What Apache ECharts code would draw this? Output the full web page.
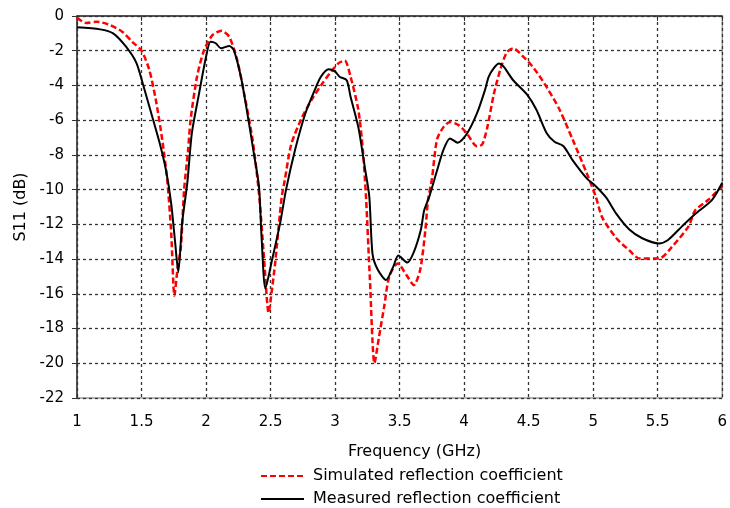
<!DOCTYPE html>
<html>
<head>
<meta charset="utf-8">
<script src="https://cdn.jsdelivr.net/npm/echarts@6/dist/echarts.min.js"></script>
<style>html,body{margin:0;padding:0;background:#fff}#c{width:730px;height:508px}</style>
</head>
<body>
<div id="c"></div>
<script>
var simFreq = [1.00,1.07,1.15,1.25,1.35,1.43,1.50,1.56,1.61,1.66,1.70,1.73,1.755,1.78,1.805,1.83,1.86,1.88,1.93,1.985,2.05,2.12,2.18,2.24,2.30,2.36,2.41,2.45,2.485,2.51,2.536,2.585,2.61,2.66,2.74,2.82,2.90,2.97,3.03,3.075,3.12,3.18,3.215,3.24,3.27,3.305,3.34,3.38,3.42,3.485,3.56,3.61,3.66,3.70,3.72,3.75,3.79,3.84,3.89,3.96,4.02,4.10,4.14,4.18,4.23,4.28,4.33,4.38,4.46,4.54,4.64,4.74,4.84,4.95,5.02,5.07,5.18,5.28,5.36,5.51,5.61,5.74,5.79,5.89,6.00];
var simS11 = [-0.1,-0.4,-0.33,-0.5,-0.9,-1.5,-2.0,-3.1,-4.8,-7.1,-9.5,-12.5,-16.1,-14.5,-13.3,-10.0,-7.8,-6.0,-3.5,-1.96,-1.1,-0.85,-1.2,-2.5,-4.65,-7.1,-10.2,-14.0,-17.1,-15.8,-14.2,-10.5,-9.45,-7.4,-5.9,-4.8,-3.9,-3.2,-2.7,-2.57,-3.5,-5.4,-7.7,-10.5,-15.2,-20.0,-18.5,-16.75,-15.0,-14.25,-15.0,-15.5,-14.6,-12.3,-10.6,-9.4,-7.1,-6.4,-6.1,-6.3,-6.75,-7.5,-7.4,-6.4,-4.5,-3.1,-2.1,-1.86,-2.35,-3.0,-4.1,-5.4,-7.1,-9.05,-10.4,-11.6,-12.8,-13.5,-13.97,-13.97,-13.3,-12.1,-11.2,-10.6,-9.8];
var measFreq = [1.00,1.18,1.28,1.38,1.46,1.51,1.56,1.64,1.69,1.73,1.76,1.785,1.815,1.855,1.89,1.945,2.00,2.035,2.075,2.115,2.18,2.215,2.27,2.32,2.37,2.41,2.43,2.46,2.51,2.575,2.62,2.69,2.77,2.84,2.89,2.95,3.00,3.035,3.09,3.12,3.18,3.23,3.265,3.29,3.33,3.395,3.45,3.49,3.56,3.61,3.665,3.69,3.73,3.79,3.84,3.89,3.95,4.02,4.10,4.16,4.19,4.23,4.27,4.305,4.38,4.485,4.56,4.64,4.70,4.77,4.84,4.95,5.02,5.10,5.18,5.28,5.38,5.51,5.58,5.69,5.79,5.92,6.00];
var measS11 = [-0.65,-0.77,-1.0,-1.77,-2.7,-3.9,-5.2,-7.3,-8.9,-10.8,-13.0,-14.75,-11.9,-9.6,-6.75,-4.5,-2.35,-1.48,-1.57,-1.86,-1.73,-1.96,-3.5,-5.6,-7.9,-9.8,-12.7,-15.7,-14.1,-11.9,-10.0,-7.7,-5.6,-4.3,-3.5,-3.07,-3.2,-3.5,-3.7,-4.65,-6.4,-8.7,-10.4,-13.7,-14.6,-15.2,-14.45,-13.8,-14.2,-13.6,-12.3,-11.2,-10.4,-8.9,-7.7,-7.05,-7.3,-6.8,-5.6,-4.3,-3.5,-3.0,-2.73,-2.9,-3.7,-4.5,-5.4,-6.75,-7.24,-7.5,-8.3,-9.35,-9.8,-10.45,-11.4,-12.3,-12.8,-13.1,-12.9,-12.1,-11.4,-10.6,-9.6];
var seriesNames = ['Simulated reflection coefficient','Measured reflection coefficient'];
var xAxisName = 'Frequency (GHz)';
var yAxisName = 'S11 (dB)';

function pairs(xs, ys){ return xs.map(function(x,i){ return [x, ys[i]]; }); }

var FONT = "'DejaVu Sans',sans-serif";
var chart = echarts.init(document.getElementById('c'), null, {renderer:'canvas'});
chart.setOption({
  animation:false,
  backgroundColor:'#fff',
  grid:{left:77, right:3, top:16, bottom:110, show:true, borderColor:'#666', borderWidth:1},
  legend:{
    orient:'vertical', left:260, top:468, padding:0, itemGap:7, itemWidth:43, itemHeight:14,
    itemStyle:{opacity:0},
    textStyle:{fontFamily:FONT, fontSize:16, lineHeight:16, color:'#000', padding:[0,0,0,4]},
    data:seriesNames
  },
  xAxis:{
    type:'value', min:1, max:6, interval:0.5,
    name:xAxisName, nameLocation:'middle', nameGap:46,
    nameTextStyle:{fontFamily:FONT, fontSize:16, color:'#000', padding:[0,0,0,30]},
    axisLine:{show:true, lineStyle:{color:'#333', width:1.5}},
    axisTick:{show:true, length:5, lineStyle:{color:'#333'}},
    axisLabel:{fontFamily:FONT, fontSize:15, color:'#000', margin:17},
    splitLine:{show:true, lineStyle:{color:'#333', type:[3,3], width:1.3}}
  },
  yAxis:{
    type:'value', min:-22, max:0, interval:2,
    name:yAxisName, nameLocation:'middle', nameGap:47,
    nameTextStyle:{fontFamily:FONT, fontSize:16, color:'#000'},
    axisLine:{show:true, lineStyle:{color:'#333', width:1.5}},
    axisTick:{show:true, length:5, lineStyle:{color:'#333'}},
    axisLabel:{fontFamily:FONT, fontSize:15, color:'#000', margin:13},
    splitLine:{show:true, lineStyle:{color:'#333', type:[3,3], width:1.3}}
  },
  series:[
    {name:seriesNames[0], type:'line', data:pairs(simFreq, simS11), showSymbol:false, symbol:'none', smooth:0.25,
     lineStyle:{color:'#ff0000', width:2.5, type:[6,3]}, itemStyle:{color:'#ff0000'}, z:3},
    {name:seriesNames[1], type:'line', data:pairs(measFreq, measS11), showSymbol:false, symbol:'none', smooth:0.25,
     lineStyle:{color:'#000', width:2}, itemStyle:{color:'#000'}, z:4}
  ]
});
</script>
</body>
</html>
